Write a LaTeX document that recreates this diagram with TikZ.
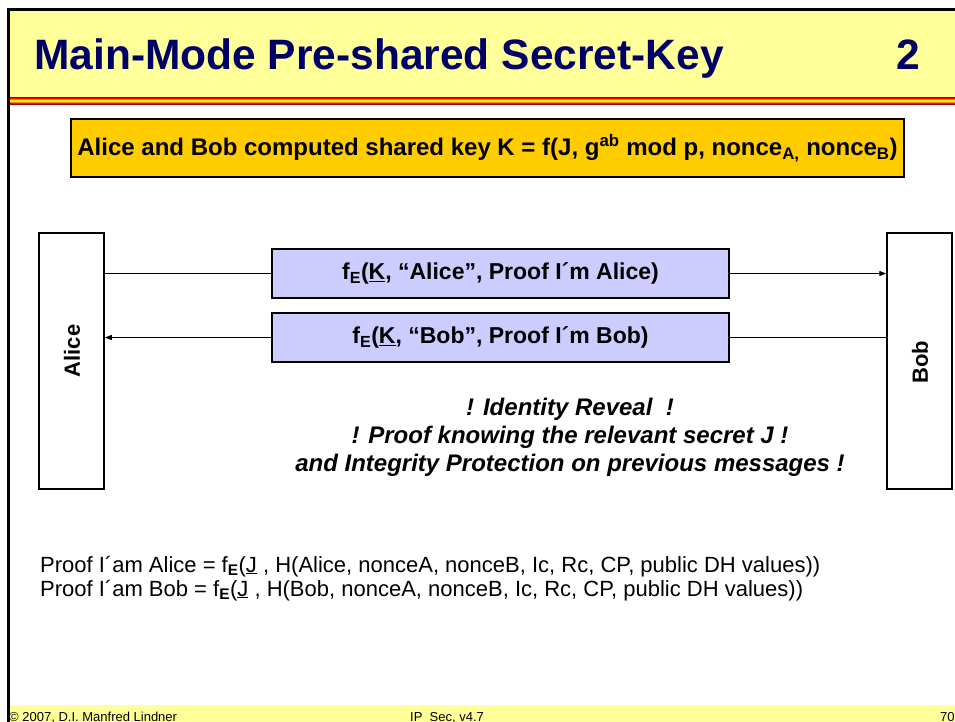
\documentclass[tikz,border=0pt]{standalone}
\usepackage{fontspec}
\setmainfont{Liberation Sans}
\usetikzlibrary{positioning,arrows.meta}

\definecolor{titleblue}{HTML}{000066}
\definecolor{paleyellow}{HTML}{FFFF99}
\definecolor{keyyellow}{HTML}{FFCC00}
\definecolor{msgblue}{HTML}{CCCCFF}
\definecolor{darkred}{HTML}{990000}

\begin{document}
\begin{tikzpicture}[x=1pt, y=-1pt,
    party/.style={draw, fill=white, line width=1.5pt, minimum width=65pt, minimum height=256pt, inner sep=0pt},
    msg/.style={draw, fill=msgblue, line width=1.5pt, minimum width=457pt, minimum height=49pt, font=\fontsize{23}{27}\selectfont\bfseries},
    flow/.style={line width=1.2pt},
    tip/.style={-{Triangle[length=7pt,width=5pt]}}]

    \useasboundingbox (0,0) rectangle (955,722);

    % Draw the slide frame, title band and footer
    \fill[paleyellow] (8,10) rectangle (955,97);
    \foreach \col [count=\i] in {darkred,red,orange,yellow,yellow,orange,red,darkred}
        \fill[\col] (8,96+\i) rectangle (955,97+\i);
    \fill[paleyellow] (8,705) rectangle (955,722);
    \draw[line width=3pt] (8,722) -- (8,10) -- (955,10);

    \node[anchor=base west, inner sep=0pt, text=titleblue, font=\fontsize{42.5}{43}\selectfont\bfseries] (title) at (34,70) {Main-Mode Pre-shared Secret-Key};
    \node[anchor=base east, inner sep=0pt, text=titleblue, font=\fontsize{42.5}{43}\selectfont\bfseries] (slideno) at (920,70) {2};

    % Draw the shared key box
    \node[draw, line width=2.5pt, fill=keyyellow, minimum width=833pt, minimum height=58pt, font=\fontsize{24}{28}\selectfont\bfseries] (key) at (487.5,148) {Alice and Bob computed shared key K = f(J, g\textsuperscript{ab} mod p, nonce\textsubscript{A,} nonce\textsubscript{B})};

    % Draw the two parties
    \node[party] (alice) at (71.5,361) {};
    \node[party] (bob) at (919.5,361) {};
    \node[rotate=90, font=\fontsize{22}{22}\selectfont\bfseries] (alicename) at (72,351) {Alice};
    \node[rotate=90, font=\fontsize{22}{22}\selectfont\bfseries] (bobname) at (920,362) {Bob};

    % Draw the messages
    \node[msg] (msga) at (500.5,273.5) {f\textsubscript{E}(\underline{K}, “Alice”, Proof I´m Alice)};
    \node[msg] (msgb) at (500.5,337.5) {f\textsubscript{E}(\underline{K}, “Bob”, Proof I´m Bob)};

    \draw[flow] (alice.east |- msga.west) -- (msga.west);
    \draw[flow, tip] (msga.east) -- (bob.west |- msga.east);
    \draw[flow] (bob.west |- msgb.east) -- (msgb.east);
    \draw[flow, tip] (msgb.west) -- (alice.east |- msgb.west);

    % Label the properties
    \node[align=center, font=\fontsize{24}{28}\selectfont\bfseries\itshape] (note) at (570,437) {! Identity Reveal\ \ !\\ ! Proof knowing the relevant secret J !\\ and Integrity Protection on previous messages !};

    \node[anchor=base west, inner sep=0pt, font=\fontsize{22}{24}\selectfont] (proofa) at (40,572) {Proof I´am Alice = f\textsubscript{\textbf{E}}(\underline{J} , H(Alice, nonceA, nonceB, Ic, Rc, CP, public DH values))};
    \node[anchor=base west, inner sep=0pt, font=\fontsize{22}{24}\selectfont] (proofb) at (40,596) {Proof I´am Bob = f\textsubscript{\textbf{E}}(\underline{J} , H(Bob, nonceA, nonceB, Ic, Rc, CP, public DH values))};

    % Footer texts
    \node[anchor=base west, inner sep=0pt, font=\fontsize{13}{13}\selectfont] (copy) at (9,721) {© 2007, D.I. Manfred Lindner};
    \node[anchor=base west, inner sep=0pt, font=\fontsize{13}{13}\selectfont] (version) at (410,721) {IP\_Sec, v4.7};
    \node[anchor=base west, inner sep=0pt, font=\fontsize{13}{13}\selectfont] (page) at (940,721) {70};

\end{tikzpicture}
\end{document}
